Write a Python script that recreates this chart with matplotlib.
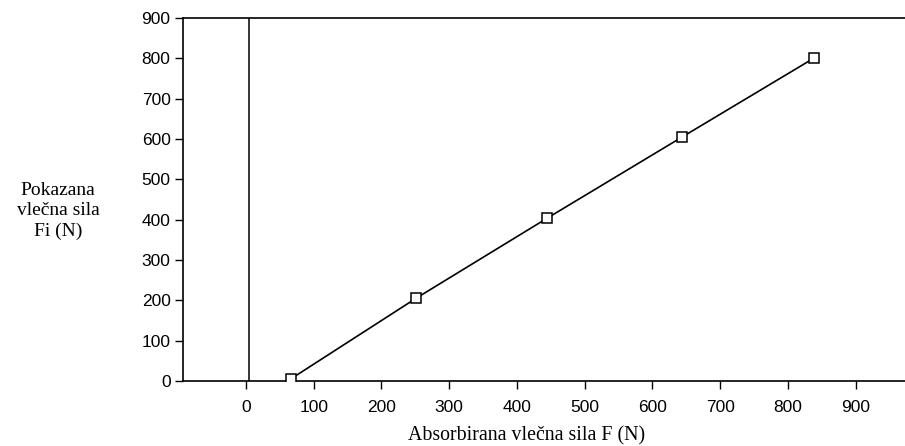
import matplotlib.pyplot as plt

# absorbed drag force vs indicated drag force
absorbed_F = [66, 251, 444, 644, 838]
indicated_Fi = [5, 205, 403, 605, 800]

x_ticks = [0, 100, 200, 300, 400, 500, 600, 700, 800, 900]
y_ticks = [0, 100, 200, 300, 400, 500, 600, 700, 800, 900]

fig = plt.figure(figsize=(9.05, 4.46), dpi=100)
ax = fig.add_axes([183 / 905, 1 - 381 / 446, 1 - 183 / 905, (381 - 18) / 446])

ax.plot(absorbed_F, indicated_Fi, color='black', lw=1.2, marker='s', markersize=6.5,
        markerfacecolor='white', markeredgecolor='black', markeredgewidth=1.1, zorder=3)
ax.axvline(4, color='black', lw=1.1)

ax.set_xlim(-93, 973)
ax.set_ylim(0, 900)
ax.set_xticks(x_ticks)
ax.set_yticks(y_ticks)
ax.tick_params(axis='both', direction='out', length=6, width=1.0, labelsize=12.5,
               labelfontfamily='Liberation Sans')
ax.tick_params(axis='x', pad=8)
ax.tick_params(axis='y', pad=3)
ax.spines['right'].set_visible(False)
for s in ['left', 'top', 'bottom']:
    ax.spines[s].set_linewidth(1.2)

fig.text(527 / 905, 1 - 436 / 446, 'Absorbirana vlečna sila F (N)', ha='center', va='center',
         fontsize=14.3, family='Liberation Serif')
fig.text(58 / 905, 1 - 211 / 446, 'Pokazana\nvlečna sila\nFi (N)', ha='center', va='center',
         fontsize=14, family='Liberation Serif', linespacing=1.25)

fig.savefig('out.png', dpi=100)
